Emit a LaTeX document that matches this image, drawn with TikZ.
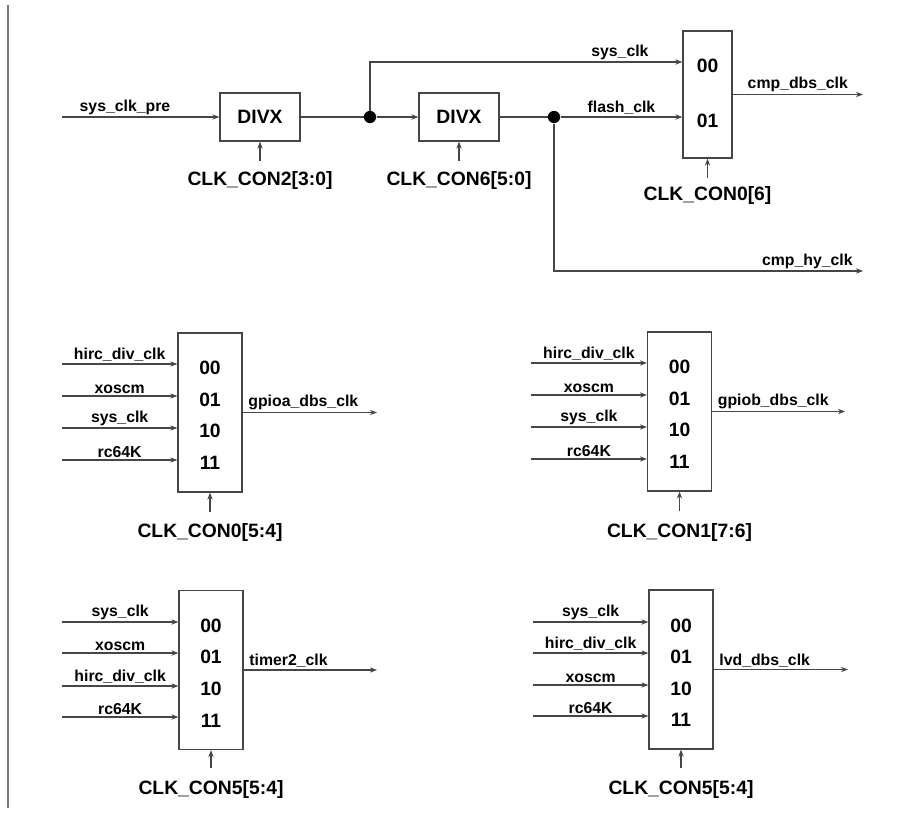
\documentclass[tikz,border=0pt]{standalone}
\usepackage{fontspec}
\setmainfont{Liberation Sans}
\usetikzlibrary{arrows.meta}
\definecolor{wire}{RGB}{70,70,70}
\definecolor{frame}{RGB}{120,120,120}
\tikzset{
  sig/.style={draw=wire, line width=0.6pt, -{Stealth[length=4pt,width=3pt]}},
  wireline/.style={draw=wire, line width=0.6pt},
  divbox/.style={draw=wire, line width=0.7pt, minimum width=1.6cm, minimum height=0.96cm, font=\bfseries\fontsize{11}{13}\selectfont},
  muxbox/.style={draw=wire, line width=0.7pt, minimum width=1.28cm, minimum height=3.18cm},
  lbl/.style={font=\bfseries\fontsize{9}{11}\selectfont, inner sep=1pt},
  outlbl/.style={lbl, anchor=south west, pos=0, xshift=2pt},
  sel/.style={font=\bfseries\fontsize{11}{13}\selectfont, inner sep=0pt},
  ctl/.style={font=\bfseries\fontsize{11}{13}\selectfont, inner sep=0pt},
  dot/.style={circle, fill=black, inner sep=0pt, minimum size=7pt},
}
\begin{document}
\begin{tikzpicture}[x=0.02cm, y=-0.02cm]
\useasboundingbox (0,0) rectangle (910,818);
% frame line on the left
\draw[frame, line width=1.2pt] (8,5) -- (8,808);

% divider chain and first mux
\node[divbox] (div1) at (260,117) {DIVX};
\node[divbox] (div2) at (459,117) {DIVX};
\node[dot] (j1) at (370,117) {};
\node[dot] (j2) at (554,117) {};
\node[muxbox, minimum width=0.98cm, minimum height=2.54cm] (m1) at (707.5,94.5) {};
\node[sel] (m1a) at (707.5,66) {00};
\node[sel] (m1b) at (707.5,121) {01};
\node[ctl] (k1) at (260,181) {CLK\_CON2[3:0]};
\node[ctl] (k2) at (459,181) {CLK\_CON6[5:0]};
\node[ctl] (k3) at (707.5,196) {CLK\_CON0[6]};
\coordinate (pre) at (62,117);
\coordinate (c1) at (260,161);
\coordinate (c2) at (459,161);
\coordinate (c3) at (707.5,178);
\coordinate (o1) at (863,94.5);
\coordinate (o2) at (863,271);
\draw[sig] (pre) -- node[lbl, above, pos=0.4] {sys\_clk\_pre} (div1);
\draw[wireline] (div1) -- (j1);
\draw[sig] (j1) -- (div2);
\draw[wireline] (div2) -- (j2);
\draw[sig] (j1) |- node[lbl, above, pos=0.9] {sys\_clk} (m1.west |- 0,62);
\draw[sig] (j2) -- node[lbl, above] {flash\_clk} (j2 -| m1.west);
\draw[sig] (j2) |- node[lbl, above, pos=0.91] {cmp\_hy\_clk} (o2);
\draw[sig] (m1.east) -- node[lbl, above] {cmp\_dbs\_clk} (o1);
\draw[sig] (c1) -- (div1);
\draw[sig] (c2) -- (div2);
\draw[sig] (c3) -- (m1);

% gpioa mux
\node[muxbox] (m2) at (210,412.5) {};
\node[sel] (m2a) at (210,368) {00};
\node[sel] (m2b) at (210,399.5) {01};
\node[sel] (m2c) at (210,431) {10};
\node[sel] (m2d) at (210,463) {11};
\node[ctl] (k4) at (210,532) {CLK\_CON0[5:4]};
\coordinate (a1) at (62,364);
\coordinate (a2) at (62,396);
\coordinate (a3) at (62,428);
\coordinate (a4) at (62,460);
\coordinate (c4) at (210,512);
\coordinate (o3) at (377,412.5);
\draw[sig] (a1) -- node[lbl, above] {hirc\_div\_clk} (a1 -| m2.west);
\draw[sig] (a2) -- node[lbl, above] {xoscm} (a2 -| m2.west);
\draw[sig] (a3) -- node[lbl, above] {sys\_clk} (a3 -| m2.west);
\draw[sig] (a4) -- node[lbl, above] {rc64K} (a4 -| m2.west);
\draw[sig] (m2.east) -- node[outlbl] {gpioa\_dbs\_clk} (o3);
\draw[sig] (c4) -- (m2);

% gpiob mux
\node[muxbox] (m3) at (679.5,411.5) {};
\node[sel] (m3a) at (679.5,367) {00};
\node[sel] (m3b) at (679.5,398.5) {01};
\node[sel] (m3c) at (679.5,430) {10};
\node[sel] (m3d) at (679.5,462) {11};
\node[ctl] (k5) at (679.5,532) {CLK\_CON1[7:6]};
\coordinate (b1) at (531,363);
\coordinate (b2) at (531,395);
\coordinate (b3) at (531,427);
\coordinate (b4) at (531,459);
\coordinate (c5) at (679.5,511);
\coordinate (o4) at (845,411.5);
\draw[sig] (b1) -- node[lbl, above] {hirc\_div\_clk} (b1 -| m3.west);
\draw[sig] (b2) -- node[lbl, above] {xoscm} (b2 -| m3.west);
\draw[sig] (b3) -- node[lbl, above] {sys\_clk} (b3 -| m3.west);
\draw[sig] (b4) -- node[lbl, above] {rc64K} (b4 -| m3.west);
\draw[sig] (m3.east) -- node[outlbl] {gpiob\_dbs\_clk} (o4);
\draw[sig] (c5) -- (m3);

% timer2 mux
\node[muxbox] (m4) at (211,670) {};
\node[sel] (m4a) at (211,626) {00};
\node[sel] (m4b) at (211,657) {01};
\node[sel] (m4c) at (211,689) {10};
\node[sel] (m4d) at (211,721) {11};
\node[ctl] (k6) at (211,789.5) {CLK\_CON5[5:4]};
\coordinate (d1) at (62,622);
\coordinate (d2) at (62,653);
\coordinate (d3) at (62,686);
\coordinate (d4) at (62,717);
\coordinate (c6) at (211,768);
\coordinate (o5) at (377,670);
\draw[sig] (d1) -- node[lbl, above] {sys\_clk} (d1 -| m4.west);
\draw[sig] (d2) -- node[lbl, above] {xoscm} (d2 -| m4.west);
\draw[sig] (d3) -- node[lbl, above] {hirc\_div\_clk} (d3 -| m4.west);
\draw[sig] (d4) -- node[lbl, above] {rc64K} (d4 -| m4.west);
\draw[sig] (m4.east) -- node[outlbl] {timer2\_clk} (o5);
\draw[sig] (c6) -- (m4);

% lvd mux
\node[muxbox] (m5) at (681,669.5) {};
\node[sel] (m5a) at (681,625.5) {00};
\node[sel] (m5b) at (681,656.5) {01};
\node[sel] (m5c) at (681,688.5) {10};
\node[sel] (m5d) at (681,720) {11};
\node[ctl] (k7) at (681,789.5) {CLK\_CON5[5:4]};
\coordinate (e1) at (533,622);
\coordinate (e2) at (533,653);
\coordinate (e3) at (533,685);
\coordinate (e4) at (533,716);
\coordinate (c7) at (681,768);
\coordinate (o6) at (848,669.5);
\draw[sig] (e1) -- node[lbl, above] {sys\_clk} (e1 -| m5.west);
\draw[sig] (e2) -- node[lbl, above] {hirc\_div\_clk} (e2 -| m5.west);
\draw[sig] (e3) -- node[lbl, above] {xoscm} (e3 -| m5.west);
\draw[sig] (e4) -- node[lbl, above] {rc64K} (e4 -| m5.west);
\draw[sig] (m5.east) -- node[outlbl] {lvd\_dbs\_clk} (o6);
\draw[sig] (c7) -- (m5);
\end{tikzpicture}
\end{document}
